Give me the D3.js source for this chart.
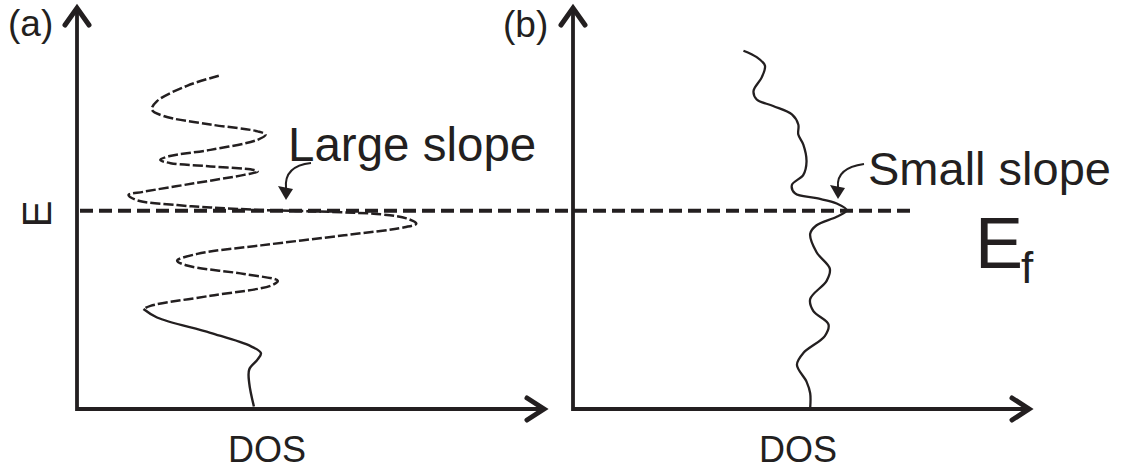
<!DOCTYPE html>
<html>
<head>
<meta charset="utf-8">
<script src="https://cdn.jsdelivr.net/npm/d3@7"></script>
<style>
  html, body { margin: 0; padding: 0; background: #fff; }
  svg { display: block; }
  text { font-family: "Liberation Sans", Arial, sans-serif; fill: #231f20; }
</style>
</head>
<body>
<svg id="chart" width="1122" height="471"></svg>
<script>
// Density of states (arb. units) against energy (arb. units), panel (a)
const energyA = [8.27, 8.02, 7.64, 7.43, 7.27, 7.06, 6.89, 6.81, 6.68, 6.43, 6.27, 6.18,
  6.10, 6.02, 5.93, 5.89, 5.81, 5.60, 5.39, 5.31, 5.18, 5.06, 5.00, 4.94, 4.89, 4.83,
  4.73, 4.60, 4.51, 4.31, 4.06, 3.85, 3.68, 3.56, 3.35, 3.18, 3.06, 2.81, 2.56, 2.48,
  2.27, 1.89, 1.56, 1.39, 1.23, 0.98, 0.64, 0.06];
const dosA = [3.03, 2.35, 1.71, 1.60, 1.85, 2.85, 3.86, 4.03, 3.86, 2.85, 1.96, 1.78,
  2.00, 2.85, 3.78, 3.86, 3.57, 2.50, 1.42, 1.10, 1.28, 2.14, 2.85, 3.93, 5.43, 6.50,
  7.04, 7.25, 7.00, 5.71, 3.93, 2.57, 2.14, 2.35, 3.57, 4.29, 4.14, 2.85, 1.57, 1.42,
  1.71, 2.85, 3.71, 3.93, 3.86, 3.68, 3.68, 3.78];

// Panel (b)
const energyB = [8.89, 8.73, 8.52, 8.23, 7.89, 7.68, 7.52, 7.31, 7.06, 6.81, 6.56, 6.14,
  5.81, 5.56, 5.35, 5.23, 5.10, 4.93, 4.77, 4.56, 4.35, 3.89, 3.48, 3.18, 2.73, 2.43,
  2.10, 1.81, 1.39, 1.10, 0.68, 0.39, 0.02];
const dosB = [3.73, 4.02, 4.20, 4.13, 3.95, 4.02, 4.38, 4.79, 4.93, 4.93, 5.04, 5.11,
  5.04, 4.79, 4.86, 5.33, 5.77, 5.99, 5.77, 5.33, 5.19, 5.33, 5.62, 5.55, 5.19, 5.26,
  5.59, 5.51, 5.04, 4.90, 5.11, 5.19, 5.19];

const fermiLevel = 4.92;
const fermiLineEnd = 7.48;   // in panel (b) DOS units
const panelTags = ["(a)", "(b)"];
const xTitle = "DOS";
const yTitle = "E";
const slopeNotes = ["Large slope", "Small slope"];

const svg = d3.select("#chart");
const ink = "#231f20";

const y = d3.scaleLinear().domain([0, 10]).range([409, 6]);
const xA = d3.scaleLinear().domain([0, 10]).range([77, 545]);
const xB = d3.scaleLinear().domain([0, 10]).range([573, 1030]);

function drawAxes(x) {
  const x0 = x.range()[0], x1 = x.range()[1];
  const y0 = y.range()[0], y1 = y.range()[1];
  const g = svg.append("g").attr("fill", "none").attr("stroke", ink);
  g.append("path")
    .attr("d", `M${x0},${y1 + 4}V${y0}H${x1 - 3}`)
    .attr("stroke-width", 3.8)
    .attr("stroke-linejoin", "miter");
  // arrowheads
  g.append("path")
    .attr("d", `M${x0 - 12},${y1 + 19}L${x0},${y1 + 2}L${x0 + 12},${y1 + 19}`)
    .attr("stroke-width", 5).attr("stroke-linecap", "round").attr("stroke-linejoin", "miter");
  g.append("path")
    .attr("d", `M${x1 - 18},${y0 - 11}L${x1 - 1},${y0}L${x1 - 18},${y0 + 11}`)
    .attr("stroke-width", 5).attr("stroke-linecap", "round").attr("stroke-linejoin", "miter");
}
drawAxes(xA);
drawAxes(xB);

// Fermi level
svg.append("line")
  .attr("x1", xA(0) + 3).attr("x2", xB(fermiLineEnd))
  .attr("y1", y(fermiLevel)).attr("y2", y(fermiLevel))
  .attr("stroke", ink).attr("stroke-width", 4)
  .attr("stroke-dasharray", "13,6");

// DOS curves
const ptsA = energyA.map((e, i) => ({ e, d: dosA[i] }));
const ptsB = energyB.map((e, i) => ({ e, d: dosB[i] }));
const lineA = d3.line().x(p => xA(p.d)).y(p => y(p.e)).curve(d3.curveCatmullRom.alpha(0.5));
const lineB = d3.line().x(p => xB(p.d)).y(p => y(p.e)).curve(d3.curveCatmullRom.alpha(0.5));

const split = 40;
svg.append("path").datum(ptsA.slice(0, split))
  .attr("d", lineA).attr("fill", "none").attr("stroke", ink)
  .attr("stroke-width", 2.5).attr("stroke-dasharray", "10,3");
svg.append("path").datum(ptsA.slice(split - 1))
  .attr("d", lineA).attr("fill", "none").attr("stroke", ink)
  .attr("stroke-width", 2.4);
svg.append("path").datum(ptsB)
  .attr("d", lineB).attr("fill", "none").attr("stroke", ink)
  .attr("stroke-width", 2.3);

// Annotation arrows
function curvedArrow(sx, sy, cx, cy, tx, ty) {
  const p = d3.path();
  p.moveTo(sx, sy);
  p.quadraticCurveTo(cx, cy, tx, ty - 10);
  svg.append("path").attr("d", p.toString())
    .attr("fill", "none").attr("stroke", ink).attr("stroke-width", 2);
  svg.append("path")
    .attr("d", `M${tx - 8},${ty - 12}L${tx + 7},${ty - 9}L${tx},${ty + 2}Z`)
    .attr("fill", ink);
}
curvedArrow(311, 163, 284, 166, 286, 198);
curvedArrow(864, 164, 836, 168, 838, 197);

// Texts
svg.append("text").attr("x", 8).attr("y", 36).attr("font-size", 37).text(panelTags[0]);
svg.append("text").attr("x", 503).attr("y", 37).attr("font-size", 37).text(panelTags[1]);

svg.append("text").attr("x", 267).attr("y", 462).attr("font-size", 36)
  .attr("text-anchor", "middle").text(xTitle);
svg.append("text").attr("x", 798).attr("y", 462).attr("font-size", 36)
  .attr("text-anchor", "middle").text(xTitle);

svg.append("text").attr("transform", "translate(51,214) rotate(-90)")
  .attr("font-size", 40).attr("text-anchor", "middle").text(yTitle);

svg.append("text").attr("x", 288).attr("y", 161).attr("font-size", 47.5).text(slopeNotes[0]);
svg.append("text").attr("x", 868).attr("y", 185).attr("font-size", 47).text(slopeNotes[1]);

const ef = svg.append("text").attr("x", 975).attr("y", 268).attr("font-size", 72);
ef.append("tspan").text("E");
ef.append("tspan").attr("x", 1021).attr("y", 283).attr("font-size", 44).text("f");
</script>
</body>
</html>
